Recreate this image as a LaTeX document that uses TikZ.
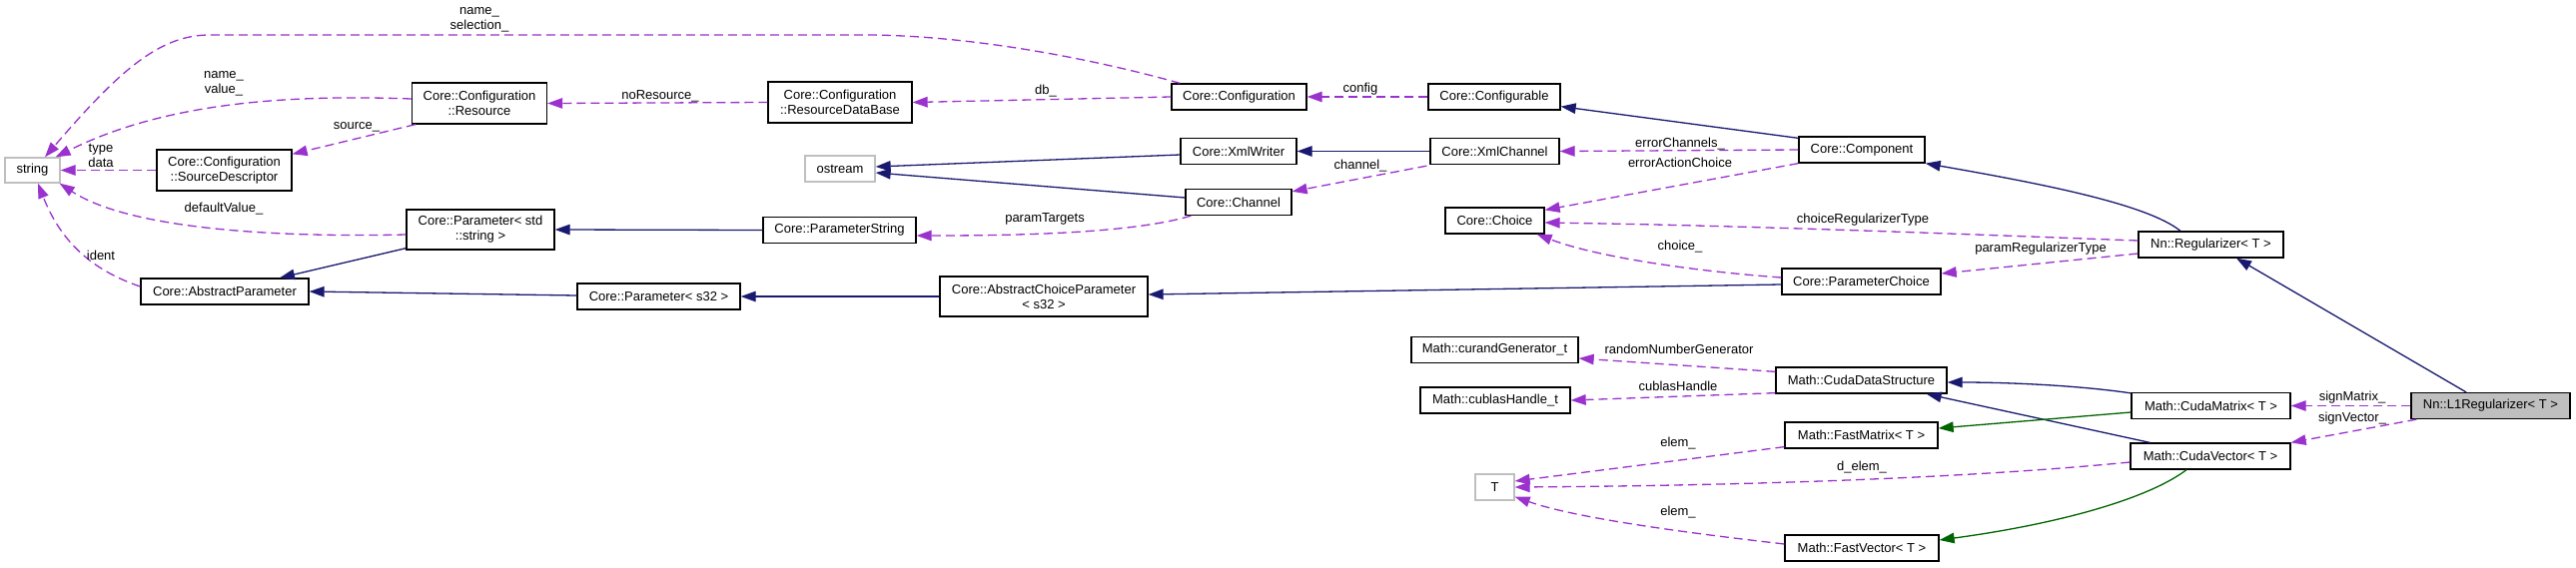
\documentclass[tikz,border=0pt]{standalone}
\usepackage{fontspec}
\setmainfont{Liberation Sans}
\usetikzlibrary{arrows.meta,calc}
\definecolor{navyc}{HTML}{191970}
\definecolor{orchidc}{HTML}{9A32CD}
\definecolor{dgreenc}{HTML}{006400}
\definecolor{greyc}{HTML}{BFBFBF}
\begin{document}
\begin{tikzpicture}[x=1pt,y=-1pt,
  cls/.style={draw=black, line width=1.3pt, fill=white, inner sep=0pt, align=center, font=\fontsize{13}{15}\selectfont},
  gcls/.style={cls, draw=greyc},
  lbl/.style={inner sep=0pt, align=center, font=\fontsize{13}{15}\selectfont},
  inhedge/.style={draw=navyc, line width=1.3pt, -{Triangle[length=15pt,width=10.5pt]}},
  useedge/.style={draw=orchidc, line width=1.3pt, dash pattern=on 9pt off 5pt, -{Triangle[length=15pt,width=10.5pt]}},
  tmpledge/.style={draw=dgreenc, line width=1.3pt, -{Triangle[length=15pt,width=10.5pt]}},
  ]
\fill[white] (0,0) rectangle (2579,568);
\useasboundingbox (0,0) rectangle (2579,568);

% nodes
\node[gcls, minimum width=55pt, minimum height=25pt] (string) at (32.5,170.5) {string};
\node[cls, minimum width=135pt, minimum height=41pt] (Resource) at (480,103.5) {Core::Configuration\\::Resource};
\node[cls, minimum width=135pt, minimum height=41pt] (SourceDesc) at (224.5,170.5) {Core::Configuration\\::SourceDescriptor};
\node[cls, minimum width=148pt, minimum height=40pt] (ParamStd) at (481,230) {Core::Parameter< std\\::string >};
\node[cls, minimum width=168pt, minimum height=26pt] (AbsParam) at (225,292) {Core::AbstractParameter};
\node[cls, minimum width=163pt, minimum height=26pt] (ParamS32) at (659.5,297) {Core::Parameter< s32 >};
\node[cls, minimum width=144pt, minimum height=41pt] (ResDB) at (841,102.5) {Core::Configuration\\::ResourceDataBase};
\node[cls, minimum width=135pt, minimum height=26pt] (Config) at (1240.5,97) {Core::Configuration};
\node[cls, minimum width=132pt, minimum height=26pt] (Configurable) at (1496,97) {Core::Configurable};
\node[gcls, minimum width=70pt, minimum height=26pt] (ostream) at (841,169) {ostream};
\node[cls, minimum width=116pt, minimum height=26pt] (XmlWriter) at (1240,151.5) {Core::XmlWriter};
\node[cls, minimum width=129pt, minimum height=26pt] (XmlChannel) at (1496.5,151.5) {Core::XmlChannel};
\node[cls, minimum width=106pt, minimum height=26pt] (Channel) at (1240,202.5) {Core::Channel};
\node[cls, minimum width=153pt, minimum height=26pt] (ParamString) at (840.5,230.5) {Core::ParameterString};
\node[cls, minimum width=99pt, minimum height=26pt] (Choice) at (1496.5,221) {Core::Choice};
\node[cls, minimum width=208pt, minimum height=40pt] (AbsChoice) at (1045,297) {Core::AbstractChoiceParameter\\< s32 >};
\node[cls, minimum width=126pt, minimum height=26pt] (Component) at (1864,150) {Core::Component};
\node[cls, minimum width=145pt, minimum height=26pt] (Regularizer) at (2213.5,245) {Nn::Regularizer< T >};
\node[cls, minimum width=159pt, minimum height=26pt] (ParamChoice) at (1863.5,282) {Core::ParameterChoice};
\node[cls, minimum width=167pt, minimum height=26pt] (curand) at (1496.5,350.5) {Math::curandGenerator\_t};
\node[cls, minimum width=150pt, minimum height=26pt] (cublas) at (1497,401) {Math::cublasHandle\_t};
\node[cls, minimum width=171pt, minimum height=26pt] (CudaDS) at (1863.5,381) {Math::CudaDataStructure};
\node[cls, minimum width=159pt, minimum height=26pt] (CudaMatrix) at (2213.5,406.5) {Math::CudaMatrix< T >};
\node[cls, fill=greyc, minimum width=159pt, minimum height=26pt] (L1) at (2493.5,406.5) {Nn::L1Regularizer< T >};
\node[cls, minimum width=153pt, minimum height=26pt] (FastMatrix) at (1863.5,436) {Math::FastMatrix< T >};
\node[cls, minimum width=160pt, minimum height=26pt] (CudaVector) at (2213,457) {Math::CudaVector< T >};
\node[cls, minimum width=154pt, minimum height=26pt] (FastVector) at (1864,549) {Math::FastVector< T >};
\node[gcls, minimum width=39pt, minimum height=26pt] (T) at (1496.5,488) {T};

% edges
\draw[useedge] ($(Config.north west)+(9,0)$) .. controls (1080,55) and (960,35) .. (866,35) -- (210,35) .. controls (160,35) and (120,70) .. ($(string.north)+(12.5,0)$);
\draw[useedge] ($(Resource.west)+(0,-4.5)$) .. controls (300,95) and (170,100) .. ($(string.north east)+(-5,0)$);
\draw[useedge] (SourceDesc.west) -- (string.east);
\draw[useedge] ($(Resource.south west)+(4,0)$) -- ($(SourceDesc.north east)+(0,5)$);
\draw[useedge] ($(ParamStd.west)+(0,5)$) .. controls (280,238) and (130,230) .. ($(string.south east)+(-1,0)$);
\draw[useedge] ($(AbsParam.west)+(0,-5)$) .. controls (90,270) and (60,240) .. ($(string.south)+(5.5,0)$);
\draw[useedge] (ResDB.west) -- (Resource.east);
\draw[useedge] (Config.west) -- (ResDB.east);
\draw[useedge] (Configurable.west) -- (Config.east);
\draw[inhedge] ($(Component.north west)+(0,2)$) -- ($(Configurable.south east)+(0,-4)$);
\draw[inhedge] ($(XmlWriter.west)+(0,3.5)$) -- ($(ostream.east)+(0,-2)$);
\draw[inhedge] ($(Channel.west)+(0,-4.5)$) -- ($(ostream.east)+(0,4)$);
\draw[inhedge] (XmlChannel.west) -- (XmlWriter.east);
\draw[useedge] ($(XmlChannel.south west)+(-3,1)$) -- ($(Channel.north east)+(0,3)$);
\draw[useedge] ($(Channel.south west)+(6,0)$) .. controls (1130,235) and (1000,236) .. ($(ParamString.east)+(0,5.5)$);
\draw[inhedge] (ParamString.west) -- (ParamStd.east);
\draw[useedge] (Component.west) -- (XmlChannel.east);
\draw[useedge] (Component.south west) -- ($(Choice.north east)+(0,3)$);
\draw[useedge] ($(Regularizer.west)+(0,-4)$) .. controls (1950,234) and (1750,226) .. ($(Choice.east)+(0,2)$);
\draw[useedge] ($(ParamChoice.west)+(0,-4)$) .. controls (1700,272) and (1600,258) .. ($(Choice.south east)+(-8,0)$);
\draw[useedge] ($(Regularizer.west)+(0,9)$) -- ($(ParamChoice.east)+(0,-8)$);
\draw[inhedge] ($(ParamChoice.west)+(0,3)$) -- ($(AbsChoice.east)+(0,-2)$);
\draw[inhedge] (AbsChoice.west) -- (ParamS32.east);
\draw[inhedge] ($(ParamS32.west)+(0,-1)$) -- (AbsParam.east);
\draw[inhedge] ($(ParamStd.south west)+(0,-2)$) -- ($(AbsParam.north)+(55,0)$);
\draw[inhedge] ($(Regularizer.north)+(-30.5,0)$) .. controls (2150,205) and (2050,185) .. (Component.south east);
\draw[inhedge] ($(L1.north)+(-24.5,0)$) -- ($(Regularizer.south)+(25.5,0)$);
\draw[useedge] (L1.west) -- (CudaMatrix.east);
\draw[useedge] ($(L1.south west)+(6,0)$) -- (CudaVector.north east);
\draw[inhedge] ($(CudaMatrix.north west)+(0,1)$) .. controls (2080,386) and (2010,383) .. ($(CudaDS.east)+(0,2)$);
\draw[inhedge] ($(CudaVector.north west)+(20,0)$) -- ($(CudaDS.south east)+(-21,0)$);
\draw[tmpledge] ($(CudaMatrix.west)+(0,6.5)$) -- ($(FastMatrix.east)+(0,-7)$);
\draw[tmpledge] ($(CudaVector.south)+(-24,0)$) .. controls (2150,500) and (2060,525) .. ($(FastVector.east)+(0,-8)$);
\draw[useedge] ($(CudaDS.north west)+(0,5)$) -- ($(curand.east)+(0,8.5)$);
\draw[useedge] ($(CudaDS.south west)+(0,-1)$) -- (cublas.east);
\draw[useedge] ($(FastMatrix.south west)+(0,-2)$) -- ($(T.east)+(0,-6)$);
\draw[useedge] ($(CudaVector.west)+(0,6)$) .. controls (2000,476) and (1800,486) .. (T.east);
\draw[useedge] ($(FastVector.west)+(0,-4)$) .. controls (1700,535) and (1580,520) .. ($(T.south east)+(0,-4)$);

% labels
\node[lbl] (l1) at (480,19.5) {name\_\\selection\_};
\node[lbl] (l2) at (224,83.5) {name\_\\value\_};
\node[lbl] (l3) at (661,96) {noResource\_};
\node[lbl] (l4) at (357,127) {source\_};
\node[lbl] (l5) at (101,155.5) {type\\data};
\node[lbl] (l6) at (224,209) {defaultValue\_};
\node[lbl] (l7) at (101,256) {ident};
\node[lbl] (l8) at (1047,91) {db\_};
\node[lbl] (l9) at (1362,89) {config};
\node[lbl] (l10) at (1362,166) {channel\_};
\node[lbl] (l11) at (1046,219) {paramTargets};
\node[lbl] (l12) at (1682,144) {errorChannels\_};
\node[lbl] (l13) at (1682,163) {errorActionChoice};
\node[lbl] (l14) at (1865,220) {choiceRegularizerType};
\node[lbl] (l15) at (1682,247) {choice\_};
\node[lbl] (l16) at (2043,249) {paramRegularizerType};
\node[lbl] (l17) at (1681,350) {randomNumberGenerator};
\node[lbl] (l18) at (1680,387) {cublasHandle};
\node[lbl] (l19) at (1680,444) {elem\_};
\node[lbl] (l20) at (1864,468) {d\_elem\_};
\node[lbl] (l21) at (1680,513) {elem\_};
\node[lbl] (l22) at (2355,398) {signMatrix\_};
\node[lbl] (l23) at (2355,419) {signVector\_};
\end{tikzpicture}
\end{document}
